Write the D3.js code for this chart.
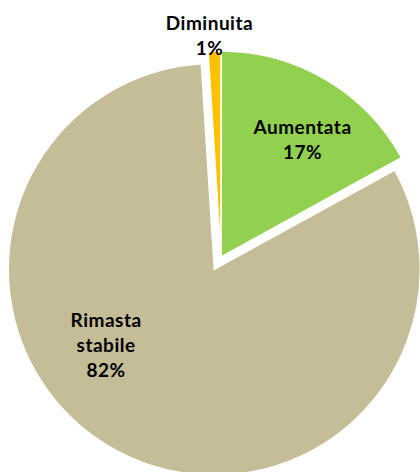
<!DOCTYPE html>
<html>
<head>
<meta charset="utf-8">
<script src="https://cdn.jsdelivr.net/npm/d3@7"></script>
<style>
  html, body { margin: 0; padding: 0; background: #fff; }
  svg { display: block; }
  text { font-family: Lato, "Open Sans", "DejaVu Sans", sans-serif; font-weight: bold; fill: #000; }
</style>
</head>
<body>
<svg id="chart" width="420" height="472"></svg>
<script>
// ---- data ----
const categories = ["Aumentata", "Rimasta stabile", "Diminuita"];
const values = [17, 82, 1];
const labelLines = [["Aumentata"], ["Rimasta", "stabile"], ["Diminuita"]];
const percentLabels = ["17%", "82%", "1%"];
const colors = ["#92D050", "#C4BD97", "#FFC000"];

// ---- layout ----
const W = 420, H = 472;
const cx = 221, cy = 257, R = 206;
const explode = [0, 14, 0];
// label placement (angle in degrees clockwise from 12 o'clock, radius as fraction of R)
const labelAngle = [35, 234.5, -3];
const labelRadius = [0.69, 0.645, 1.07];
const lineH = 25;

const svg = d3.select("#chart");
const pie = d3.pie().sort(null).value(d => d)(values);
const arc = d3.arc().innerRadius(0).outerRadius(R);

const g = svg.append("g").attr("transform", `translate(${cx},${cy})`);

const slices = g.selectAll("g.slice").data(pie).join("g")
  .attr("class", "slice")
  .attr("transform", (d, i) => {
    const a = (d.startAngle + d.endAngle) / 2;
    return `translate(${explode[i] * Math.sin(a)},${-explode[i] * Math.cos(a)})`;
  });

slices.append("path")
  .attr("d", arc)
  .attr("fill", (d, i) => colors[i])
  .attr("stroke", "#fff")
  .attr("stroke-width", 1.5)
  .attr("stroke-linejoin", "miter");

// labels
const labels = g.selectAll("text.lbl").data(pie).join("text")
  .attr("class", "lbl")
  .attr("text-anchor", "middle")
  .style("font-size", "19px")
  .style("letter-spacing", "0.5px")
  .each(function (d, i) {
    const a = labelAngle[i] * Math.PI / 180;
    const r = labelRadius[i] * R;
    const off = explode[i];
    const mid = (d.startAngle + d.endAngle) / 2;
    const x = r * Math.sin(a) + off * Math.sin(mid);
    const y = -r * Math.cos(a) - off * Math.cos(mid);
    const lines = labelLines[i].concat([percentLabels[i]]);
    const n = lines.length;
    const t = d3.select(this);
    lines.forEach((ln, k) => {
      t.append("tspan")
        .attr("x", x)
        .attr("y", y + (k - (n - 1) / 2) * lineH + 6)
        .text(ln);
    });
  });
</script>
</body>
</html>
